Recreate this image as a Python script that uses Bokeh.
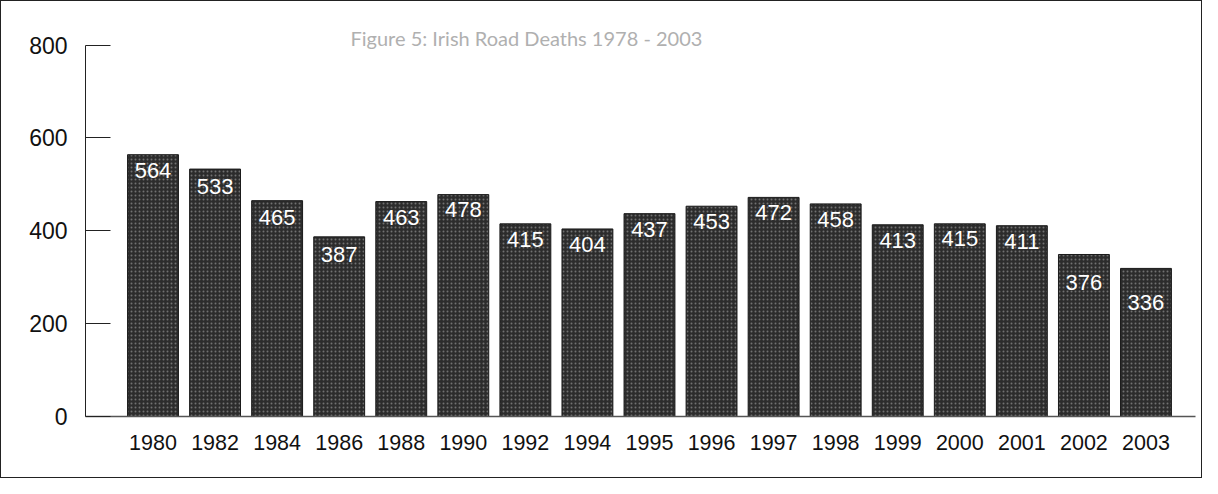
from bokeh.plotting import figure
from bokeh.models import Range1d, FixedTicker, Label, ColumnDataSource
from bokeh.embed import file_html
from bokeh.resources import INLINE
from bokeh.core.properties import value

# ---- data ----
years = ["1980", "1982", "1984", "1986", "1988", "1990", "1992", "1994", "1995",
         "1996", "1997", "1998", "1999", "2000", "2001", "2002", "2003"]
label_values = [564, 533, 465, 387, 463, 478, 415, 404, 437,
                453, 472, 458, 413, 415, 411, 376, 336]
bar_heights = [564, 533, 465, 387, 463, 478, 415, 404, 437,
               453, 472, 458, 413, 415, 411, 349, 319]
y_ticks = [0, 200, 400, 600, 800]
title_text = "Figure 5: Irish Road Deaths 1978 - 2003"

# ---- styles ----
label_offsets = [16, 17, 17, 18, 16, 15, 16, 16, 16, 15, 15, 16, 16, 15, 16, 28, 34]

xs = list(range(len(years)))
src = ColumnDataSource(dict(x=xs, top=bar_heights,
                            label=[str(v) for v in label_values],
                            off=label_offsets))

p = figure(width=1202, height=478, output_backend="svg", toolbar_location=None,
           x_range=Range1d(-1.0877, 16.798), y_range=Range1d(0, 894),
           min_border_left=84, min_border_right=8, min_border_top=0,
           min_border_bottom=63)
p.styles = {"border": "1px solid #222"}
p.grid.visible = False
p.outline_line_color = None
p.background_fill_color = "white"
p.border_fill_color = "white"

# bars
p.vbar(x="x", top="top", bottom=0, width=0.82, source=src,
       fill_color="#2c2c2c", line_color="#1a1a1a", line_width=1,
       hatch_pattern="dot", hatch_color="#8f8f8f", hatch_scale=4, hatch_weight=1.2,
       hatch_alpha=0.7)

# value labels
p.text(x="x", y="top", text="label", y_offset="off", source=src,
       text_align="center", text_baseline="middle", text_color="white",
       text_font=value("Liberation Sans"), text_font_size="22px")

# title
p.add_layout(Label(x=3.182, y=814.5, text=title_text, text_font="Lato",
                   text_font_size="20px", text_color="#b0b0b0",
                   text_baseline="middle", text_align="left"))

# x axis
xa = p.xaxis[0]
xa.ticker = FixedTicker(ticks=xs)
xa.major_label_overrides = {i: y for i, y in enumerate(years)}
xa.major_tick_line_color = None
xa.minor_tick_line_color = None
xa.major_label_standoff = 12
xa.major_label_text_font = "Liberation Sans"
xa.major_label_text_font_size = "21.5px"
xa.major_label_text_color = "#111111"
xa.axis_line_color = "#555555"
xa.axis_line_width = 1.5

# y axis
ya = p.yaxis[0]
ya.ticker = FixedTicker(ticks=y_ticks)
ya.bounds = (0, 800)
ya.major_tick_in = 25
ya.major_tick_out = 0
ya.minor_tick_line_color = None
ya.major_label_standoff = 18
ya.major_label_text_font = "Liberation Sans"
ya.major_label_text_font_size = "23px"
ya.major_label_text_color = "#111111"
ya.axis_line_color = "#222222"
ya.major_tick_line_color = "#222222"

open("out.html", "w").write(file_html(p, INLINE))
